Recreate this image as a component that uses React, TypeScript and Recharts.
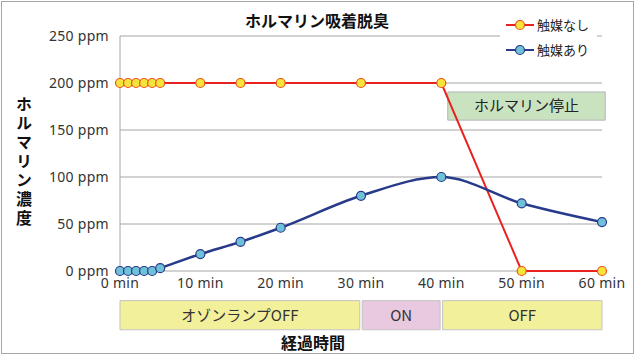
import React from 'react';
import { LineChart, Line, XAxis, YAxis, CartesianGrid, Legend, ReferenceArea } from 'recharts';

// elapsed time (min) and formalin concentration (ppm)
const minutes = [0, 1, 2, 3, 4, 5, 10, 15, 20, 30, 40, 50, 60];
const noCatalyst = [200, 200, 200, 200, 200, 200, 200, 200, 200, 200, 200, 0, 0];
const withCatalyst = [0, 0, 0, 0, 0, 3, 18, 31, 46, 80, 100, 72, 52];

const xTicks = [0, 10, 20, 30, 40, 50, 60];
const yTicks = [0, 50, 100, 150, 200, 250];

const seriesNames = ['触媒なし', '触媒あり'];

// ozone lamp phases (minutes)
const lampLabels = ['オゾンランプOFF', 'ON', 'OFF'];
const lampStart = [0, 30, 40];
const lampEnd = [30, 40, 60];

const data = minutes.map((t, i) => ({
  t,
  none: noCatalyst[i],
  cat: withCatalyst[i],
}));

const FONT = '"Noto Sans CJK JP", "Noto Sans", sans-serif';
const TICK_FONT = '"Noto Sans", "Noto Sans CJK JP", sans-serif';
const RED = '#e8231f';
const NAVY = '#283a8a';
const lampFills = ['#f3f09c', '#e8c9e0', '#f3f09c'];

const legendItems = [
  { name: seriesNames[0], stroke: RED, fill: '#f6e43a', dotStroke: '#e8531c' },
  { name: seriesNames[1], stroke: NAVY, fill: '#6fc1d9', dotStroke: NAVY },
];

const LegendBox = () => (
  <div style={{ background: '#fff', padding: '3px 0 3px 6px', fontFamily: FONT }}>
    {legendItems.map((it) => (
      <div key={it.name} style={{ display: 'flex', alignItems: 'center', height: 25 }}>
        <svg width={28} height={12}>
          <line x1={0} y1={6} x2={28} y2={6} stroke={it.stroke} strokeWidth={2} />
          <circle cx={14} cy={6} r={4.5} fill={it.fill} stroke={it.dotStroke} strokeWidth={1.2} />
        </svg>
        <span style={{ marginLeft: 3, fontSize: 13, color: '#222' }}>{it.name}</span>
      </div>
    ))}
  </div>
);

export default function App() {
  return (
    <div
      style={{
        position: 'absolute',
        left: 0,
        top: 0,
        width: 636,
        height: 355,
        background: '#fff',
        fontFamily: FONT,
      }}
    >
      <div
        style={{
          position: 'absolute',
          left: 1,
          top: 1,
          width: 633,
          height: 353,
          boxSizing: 'border-box',
          border: '1px solid #a6a6a6',
        }}
      />
      <div
        style={{
          position: 'absolute',
          left: 0,
          width: 634,
          top: 8,
          textAlign: 'center',
          fontSize: 16,
          fontWeight: 'bold',
          color: '#111',
        }}
      >
        ホルマリン吸着脱臭
      </div>
      <div
        style={{
          position: 'absolute',
          left: 12,
          top: 96,
          writingMode: 'vertical-rl',
          textOrientation: 'upright',
          fontSize: 16,
          fontWeight: 'bold',
          letterSpacing: 3,
          color: '#111',
        }}
      >
        ホルマリン濃度
      </div>
      <div
        style={{
          position: 'absolute',
          left: 0,
          width: 626,
          top: 330,
          textAlign: 'center',
          fontSize: 16,
          fontWeight: 'bold',
          color: '#111',
        }}
      >
        経過時間
      </div>
      <LineChart
        width={636}
        height={355}
        data={data}
        margin={{ top: 36, right: 34, left: 0, bottom: 0 }}
        style={{ position: 'absolute', left: 0, top: 0 }}
      >
        <CartesianGrid vertical={false} stroke="#a6a6a6" strokeWidth={1} />
        <XAxis
          dataKey="t"
          type="number"
          domain={[0, 60]}
          ticks={xTicks}
          tickFormatter={(v) => `${v} min`}
          height={84}
          axisLine={false}
          tickLine={false}
          tickSize={0}
          tickMargin={7}
          tick={{ fontSize: 14, fill: '#333', fontFamily: TICK_FONT, letterSpacing: 0.3 }}
        />
        <YAxis
          type="number"
          domain={[0, 250]}
          ticks={yTicks}
          tickFormatter={(v) => `${v} ppm`}
          width={120}
          axisLine={{ stroke: '#a6a6a6' }}
          tickLine={false}
          tickSize={0}
          tickMargin={11}
          tick={{ fontSize: 14, fill: '#333', fontFamily: TICK_FONT, letterSpacing: 0.3 }}
        />
        <ReferenceArea
          x1={40.8}
          x2={60.4}
          y1={160.5}
          y2={190.5}
          ifOverflow="visible"
          fill="#c9e3c1"
          fillOpacity={1}
          stroke="#b4b4b4"
          label={{ value: 'ホルマリン停止', position: 'center', fontSize: 15, fill: '#222', fontFamily: FONT }}
        />
        {lampLabels.map((lbl, i) => (
          <ReferenceArea
            key={lbl + i}
            x1={lampStart[i] + (i === 0 ? 0 : 0.15)}
            x2={lampEnd[i] - (i === lampLabels.length - 1 ? 0 : 0.15)}
            y1={-31.5}
            y2={-62.5}
            ifOverflow="visible"
            fill={lampFills[i]}
            fillOpacity={1}
            stroke="#c4c4c4"
            label={{ value: lbl, position: 'center', fontSize: 15, fill: '#333', fontFamily: FONT }}
          />
        ))}
        <Legend
          layout="vertical"
          align="center"
          verticalAlign="middle"
          content={<LegendBox />}
          wrapperStyle={{ left: 500, top: 9, width: 97 }}
        />
        <Line
          name={seriesNames[0]}
          dataKey="none"
          type="linear"
          stroke={RED}
          strokeWidth={2}
          dot={{ r: 4.5, fill: '#f6e43a', stroke: '#e8531c', strokeWidth: 1.2 }}
          isAnimationActive={false}
        />
        <Line
          name={seriesNames[1]}
          dataKey="cat"
          type="monotone"
          stroke={NAVY}
          strokeWidth={2.5}
          dot={{ r: 4.5, fill: '#6fc1d9', stroke: NAVY, strokeWidth: 1.2 }}
          isAnimationActive={false}
        />
      </LineChart>
    </div>
  );
}
